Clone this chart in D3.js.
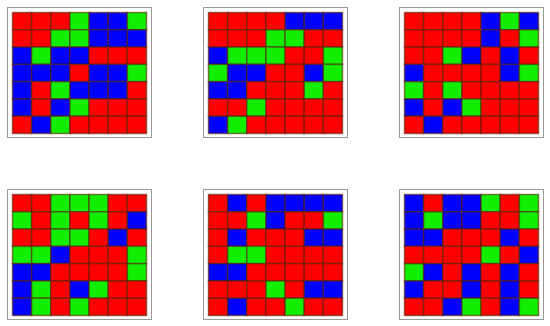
<!DOCTYPE html>
<html><head><meta charset="utf-8">
<script src="https://cdn.jsdelivr.net/npm/d3@7"></script>
<style>html,body{margin:0;padding:0;background:#fff;}svg{display:block;}</style>
</head><body>
<svg id="c" width="550" height="326"></svg>
<script>
// R = red, G = green, B = blue ; each panel is 7 rows x 7 columns
const panel1 = ["RRRGBBG","RRGGBBB","BGBBRRR","BBBRBBG","BRGBBBR","BRBGRRR","RBGRRRR"];
const panel2 = ["RRRRBBB","RRRGGRR","BGGGRRG","GBBRRBG","BBRRRGR","RRGRRRR","BGRRRRR"];
const panel3 = ["RRRRBGB","RRRRBRG","RRGBRBR","BRRRRBG","GRGRRRR","BRBGRRR","RBRRRRR"];
const panel4 = ["RRGGGRR","GRGRGRB","RRGGRBR","GGBRRRG","BBRRRRG","BGRBGRR","BGRGRRR"];
const panel5 = ["RBRBBBB","RRGBRRG","RBRRRBB","RGGRRRR","BBRRRRR","RRRGRBB","RBRRGRR"];
const panel6 = ["BRBBGRG","BGBBRRG","BBRRRBR","RRRRGRB","GBRBRBR","BRRBRBR","RRBGRBG"];
const panels = [panel1, panel2, panel3, panel4, panel5, panel6];
const colorKeys = ["R", "G", "B"];
const colorValues = ["#ff0000", "#11ee00", "#0000ff"];

const svg = d3.select("#c");
const color = d3.scaleOrdinal().domain(colorKeys).range(colorValues);
const px = d3.scaleBand().domain([0,1,2]).range([7, 7 + 196*3]).paddingInner(0);
const py = d3.scaleBand().domain([0,1]).range([7, 7 + 182*2]);
const frameW = 144, frameH = 130;
const gx = d3.scaleBand().domain(d3.range(7)).range([5.5, 139.5]);
const gy = d3.scaleBand().domain(d3.range(7)).range([5.5, 126.5]);

panels.forEach((p, i) => {
  const g = svg.append("g").attr("transform", `translate(${px(i % 3)},${py(Math.floor(i / 3))})`);
  g.append("rect").attr("x", 0.5).attr("y", 0.5).attr("width", frameW).attr("height", frameH)
    .attr("fill", "#fff").attr("stroke", "#999").attr("stroke-width", 1);
  const cells = [];
  p.forEach((row, r) => row.split("").forEach((v, c) => cells.push({r, c, v})));
  g.selectAll("rect.cell").data(cells).join("rect").attr("class", "cell")
    .attr("x", d => gx(d.c)).attr("y", d => gy(d.r))
    .attr("width", gx.bandwidth()).attr("height", gy.bandwidth())
    .attr("fill", d => color(d.v))
    .attr("stroke", "#552200").attr("stroke-opacity", 0.6).attr("stroke-width", 1.5);
});
</script>
</body></html>
